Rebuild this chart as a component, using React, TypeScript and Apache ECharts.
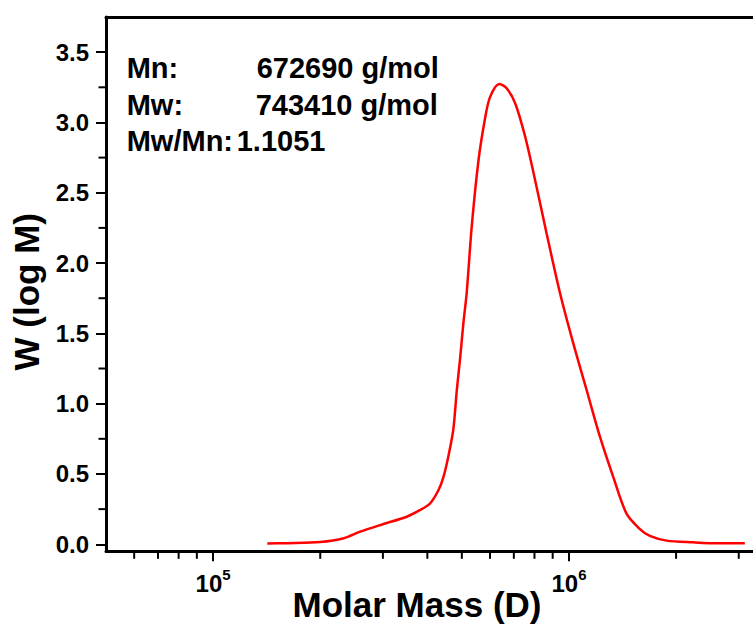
import React, { useEffect, useRef } from "react";
import * as echarts from "echarts";

// Molar mass (g/mol) and weight fraction W (log M)
const molarMass = [
  1.42e5, 1.6e5, 2.0e5, 2.33e5, 2.59e5, 3.01e5, 3.5e5, 3.82e5, 4.07e5, 4.3e5,
  4.44e5, 4.58e5, 4.73e5, 4.84e5, 4.95e5, 5.05e5, 5.16e5, 5.33e5, 5.57e5, 5.8e5,
  6.0e5, 6.37e5, 6.68e5, 7.06e5, 7.53e5, 8.03e5, 8.65e5, 9.44e5, 1.028e6, 1.121e6,
  1.222e6, 1.331e6, 1.45e6, 1.58e6, 1.688e6, 1.88e6, 2.23e6, 2.65e6, 3.12e6,
];
const weight = [
  0.005, 0.008, 0.016, 0.043, 0.09, 0.144, 0.196, 0.244, 0.29, 0.386,
  0.48, 0.623, 0.813, 1.097, 1.334, 1.572, 1.79, 2.259, 2.733, 3.018,
  3.18, 3.274, 3.243, 3.137, 2.9, 2.591, 2.212, 1.785, 1.43, 1.097,
  0.765, 0.481, 0.22, 0.11, 0.059, 0.026, 0.014, 0.007, 0.007,
];
const majorXTicks = [1e5, 1e6];
const minorXTicks = [6e4, 7e4, 8e4, 9e4, 2e5, 3e5, 4e5, 5e5, 6e5, 7e5, 8e5, 9e5, 2e6, 3e6];
const majorYTicks = [0, 0.5, 1, 1.5, 2, 2.5, 3, 3.5];
const minorYTicks = [0.25, 0.75, 1.25, 1.75, 2.25, 2.75, 3.25];
const statLabels = ["Mn:", "Mw:", "Mw/Mn:"];
const statValues = ["672690 g/mol", "743410 g/mol", "1.1051"];
const xTitle = "Molar Mass (D)";
const yTitle = "W (log M)";

const FONT = "Liberation Sans, Arial, Helvetica, sans-serif";
const X_MIN = 5e4;
const X_MAX = 3.29e6; // the figure is cropped at the right edge
const Y_MIN = -0.05;
const Y_MAX = 3.75;

export default function App() {
  const ref = useRef<HTMLDivElement>(null);

  useEffect(() => {
    if (!ref.current) return;
    const chart = echarts.init(ref.current, null, { renderer: "svg" });

    const statY = [67.5, 104.5, 141];
    const valueX = [256.7, 255.7, 236.7];
    const textStyle = (text: string, size: number, align: string) => ({
      text,
      fill: "#000",
      fontSize: size,
      fontWeight: "bold",
      fontFamily: FONT,
      align,
      verticalAlign: "middle",
    });
    const graphics: any[] = [];
    statLabels.forEach((t, i) => {
      graphics.push({ type: "text", x: 126.7, y: statY[i], style: textStyle(t, 29, "left") });
      graphics.push({ type: "text", x: valueX[i], y: statY[i], style: textStyle(statValues[i], 29, "left") });
    });
    graphics.push({ type: "text", x: 417, y: 604.5, style: textStyle(xTitle, 35, "center") });
    graphics.push({ type: "text", x: 26, y: 291.7, rotation: Math.PI / 2, style: textStyle(yTitle, 35, "center") });

    const minorTickLen = 6;
    const axisLineStyle = () => ({ show: true, onZero: false, lineStyle: { color: "#000000", width: 3 } });

    chart.setOption({
      animation: false,
      backgroundColor: "#ffffff",
      grid: {
        left: 106,
        top: 17,
        right: 0,
        height: 534.3,
        show: false,
      },
      xAxis: [
        {
          type: "log",
          logBase: 10,
          min: X_MIN,
          max: X_MAX,
          position: "bottom",
          axisLine: axisLineStyle(),
          splitLine: { show: false },
          axisTick: { show: true, length: 10, lineStyle: { color: "#000000", width: 2 }, customValues: majorXTicks },
          axisLabel: {
            show: true,
            margin: 16,
            customValues: majorXTicks,
            color: "#000000",
            formatter: (v: number) => `{b|10}{s|${Math.round(Math.log10(v))}}`,
            rich: {
              b: { fontSize: 24, fontWeight: "bold", fontFamily: FONT, color: "#000000", lineHeight: 32 },
              s: { fontSize: 15, fontWeight: "bold", fontFamily: FONT, color: "#000000", verticalAlign: "top", lineHeight: 15 },
            },
          },
        },
        {
          type: "log",
          logBase: 10,
          min: X_MIN,
          max: X_MAX,
          position: "top",
          axisLine: axisLineStyle(),
          splitLine: { show: false },
          axisTick: { show: false },
          axisLabel: { show: false },
        },
      ],
      yAxis: {
        type: "value",
        min: Y_MIN,
        max: Y_MAX,
        position: "left",
        axisLine: axisLineStyle(),
        splitLine: { show: false },
        axisTick: { show: true, length: 10, lineStyle: { color: "#000000", width: 2 }, customValues: majorYTicks },
        axisLabel: {
          show: true,
          margin: 17,
          customValues: majorYTicks,
          formatter: (v: number) => v.toFixed(1),
          fontSize: 24,
          fontWeight: "bold",
          fontFamily: FONT,
          color: "#000000",
        },
      },
      series: [
        {
          type: "line",
          xAxisIndex: 0,
          data: molarMass.map((m, i) => [m, weight[i]]),
          showSymbol: false,
          smooth: 0.3,
          lineStyle: { color: "#ff0000", width: 2.5 },
          itemStyle: { color: "#ff0000" },
          z: 3,
        },
        {
          type: "custom",
          xAxisIndex: 0,
          clip: false,
          silent: true,
          data: minorXTicks.map((v) => [v, Y_MIN]),
          renderItem: (params: any, api: any) => {
            const p = api.coord([api.value(0), api.value(1)]);
            return {
              type: "line",
              shape: { x1: p[0], y1: p[1], x2: p[0], y2: p[1] + minorTickLen + 1.5 },
              style: { stroke: "#000000", lineWidth: 2 },
            };
          },
        },
        {
          type: "custom",
          xAxisIndex: 0,
          clip: false,
          silent: true,
          data: minorYTicks.map((v) => [X_MIN, v]),
          renderItem: (params: any, api: any) => {
            const p = api.coord([api.value(0), api.value(1)]);
            return {
              type: "line",
              shape: { x1: p[0], y1: p[1], x2: p[0] - minorTickLen - 1.5, y2: p[1] },
              style: { stroke: "#000000", lineWidth: 2 },
            };
          },
        },
      ],
      graphic: graphics,
    });

    return () => chart.dispose();
  }, []);

  return <div ref={ref} style={{ position: "absolute", left: 0, top: 0, width: 753, height: 630 }} />;
}
